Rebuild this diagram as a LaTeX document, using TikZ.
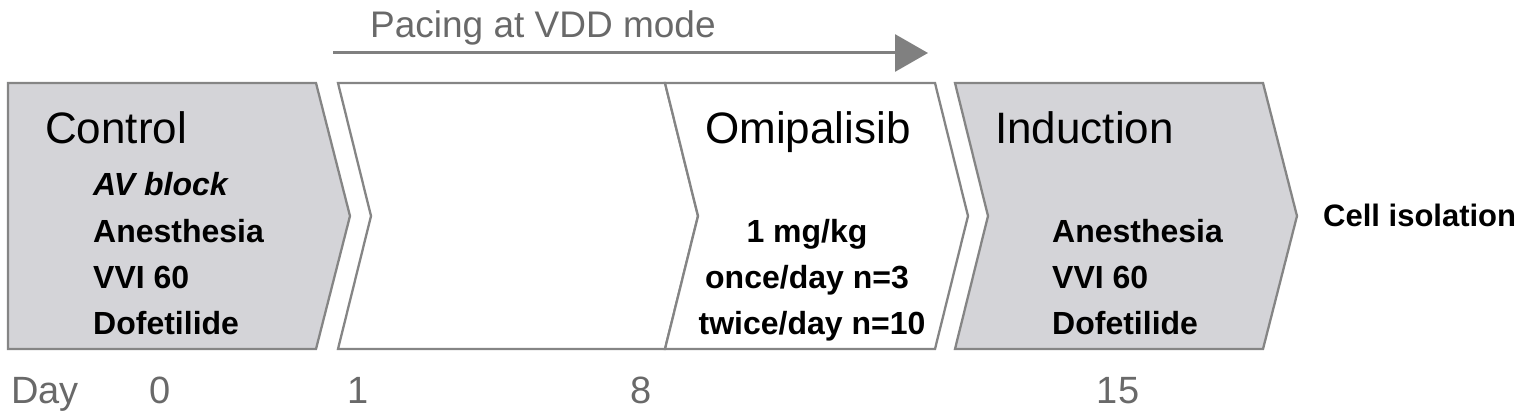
\documentclass[tikz,border=0pt]{standalone}
\usepackage{fontspec}
\setmainfont{Liberation Sans}
\usetikzlibrary{arrows.meta}
\definecolor{chevfill}{RGB}{212,212,216}
\definecolor{chevline}{RGB}{133,133,133}
\definecolor{graytext}{RGB}{105,105,105}
\definecolor{arrowgray}{RGB}{128,128,128}
\tikzset{
  chev/.style={draw=chevline, line width=2.3pt, line join=miter},
  graychev/.style={chev, fill=chevfill},
  whitechev/.style={chev, fill=white},
  title/.style={inner sep=0pt, anchor=base west, font=\fontsize{44}{44}\selectfont, text=black},
  item/.style={inner sep=0pt, anchor=base west, font=\fontsize{32}{32}\selectfont\bfseries, text=black},
  citem/.style={item, anchor=base},
  daylbl/.style={inner sep=0pt, anchor=base, font=\fontsize{38}{38}\selectfont, text=graytext},
}
\begin{document}
\begin{tikzpicture}[x=1pt, y=-1pt]
\useasboundingbox (0,0) rectangle (1535,420);
% chevrons
\draw[graychev] (8,83) -- (316,83) -- (350,216) -- (316,349) -- (8,349) -- cycle;
\draw[whitechev] (338,83) -- (665,83) -- (698,216) -- (665,349) -- (338,349) -- (371,216) -- cycle;
\draw[whitechev] (665,83) -- (935,83) -- (968,216) -- (935,349) -- (665,349) -- (698,216) -- cycle;
\draw[graychev] (955,83) -- (1263,83) -- (1297,216) -- (1263,349) -- (955,349) -- (988,216) -- cycle;
% pacing arrow
\coordinate (pacestart) at (333,53);
\coordinate (paceend) at (928,53);
\draw[draw=arrowgray, line width=3pt, -{Triangle[length=33pt,width=37pt]}] (pacestart) -- (paceend);
\node[inner sep=0pt, anchor=base west, font=\fontsize{37}{37}\selectfont, text=graytext] (pacing) at (370,38) {Pacing at VDD mode};
% Control
\node[title] (control) at (45,143) {Control};
\node[item, font=\fontsize{32}{32}\selectfont\bfseries\itshape] (avblock) at (93,195) {AV block};
\node[item] (anes1) at (93,242) {Anesthesia};
\node[item] (vvi1) at (93,288) {VVI 60};
\node[item] (dof1) at (93,334) {Dofetilide};
% Omipalisib
\node[title] (omi) at (705,143) {Omipalisib};
\node[citem] (dose) at (807,242) {1 mg/kg};
\node[citem] (once) at (807,288) {once/day n=3};
\node[citem] (twice) at (812,334) {twice/day n=10};
% Induction
\node[title] (induction) at (995,143) {Induction};
\node[item] (anes2) at (1052,242) {Anesthesia};
\node[item] (vvi2) at (1052,288) {VVI 60};
\node[item] (dof2) at (1052,334) {Dofetilide};
% Cell isolation
\node[inner sep=0pt, anchor=base west, font=\fontsize{31}{31}\selectfont\bfseries] (cell) at (1323,226) {Cell isolation};
% Day row
\node[daylbl, anchor=base west] (day) at (11,403) {Day};
\node[daylbl] (d0) at (160,403) {0};
\node[daylbl] (d1) at (358,403) {1};
\node[daylbl] (d8) at (641,403) {8};
\node[daylbl] (d15) at (1118,403) {15};
\end{tikzpicture}
\end{document}
